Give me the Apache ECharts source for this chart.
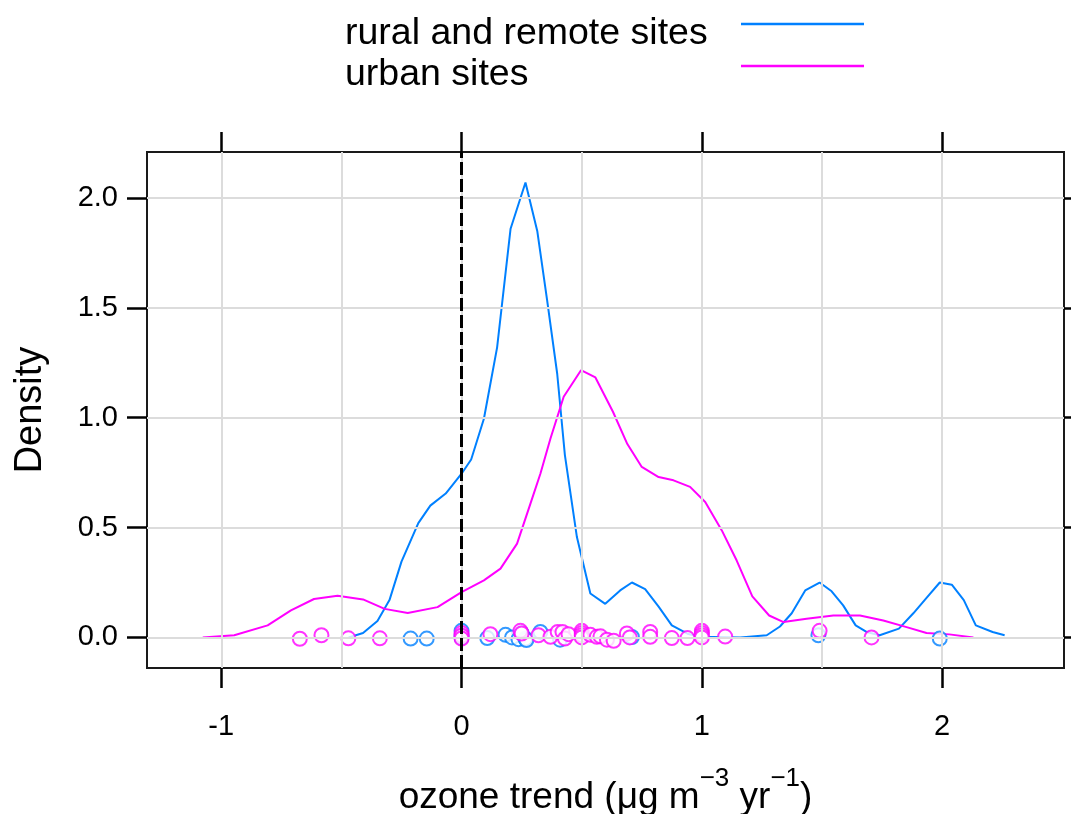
<!DOCTYPE html>
<html>
<head>
<meta charset="utf-8">
<script src="https://cdn.jsdelivr.net/npm/echarts@6/dist/echarts.min.js"></script>
<style>
  html, body { margin: 0; padding: 0; background: #ffffff; }
  #chart { width: 1071px; height: 814px; }
</style>
</head>
<body>
<div id="chart"></div>
<script>
const seriesNames = ['rural and remote sites', 'urban sites'];
const seriesColors = ['#0080ff', '#ff00ff'];

// kernel density estimate, rural and remote sites: [trend, density]
const ruralDensity = [
  [-0.47, 0.0], [-0.41, 0.02], [-0.35, 0.075], [-0.30, 0.17], [-0.25, 0.345],
  [-0.18, 0.52], [-0.13, 0.60], [-0.066, 0.655], [0.0, 0.745], [0.04, 0.81],
  [0.093, 0.995], [0.148, 1.32], [0.204, 1.86], [0.266, 2.07], [0.315, 1.85],
  [0.356, 1.535], [0.398, 1.20], [0.43, 0.83], [0.48, 0.457], [0.536, 0.20],
  [0.598, 0.153], [0.66, 0.214], [0.709, 0.25], [0.764, 0.22], [0.82, 0.14],
  [0.875, 0.055], [0.94, 0.017], [0.99, 0.003], [1.16, 0.0], [1.27, 0.01],
  [1.325, 0.05], [1.374, 0.11], [1.43, 0.214], [1.49, 0.25], [1.54, 0.21],
  [1.588, 0.146], [1.64, 0.055], [1.685, 0.025], [1.74, 0.01], [1.82, 0.04],
  [1.88, 0.11], [1.935, 0.18], [1.99, 0.25], [2.04, 0.24], [2.09, 0.17],
  [2.14, 0.055], [2.21, 0.025], [2.26, 0.01]
];

// kernel density estimate, urban sites: [trend, density]
const urbanDensity = [
  [-1.077, 0.0], [-0.946, 0.01], [-0.807, 0.055], [-0.71, 0.123], [-0.614, 0.175],
  [-0.516, 0.19], [-0.41, 0.173], [-0.32, 0.13], [-0.224, 0.111], [-0.10, 0.138],
  [0.0, 0.206], [0.093, 0.26], [0.162, 0.313], [0.231, 0.427], [0.287, 0.61],
  [0.328, 0.745], [0.37, 0.905], [0.425, 1.095], [0.497, 1.216], [0.557, 1.183],
  [0.63, 1.027], [0.69, 0.88], [0.75, 0.776], [0.82, 0.73], [0.882, 0.715],
  [0.951, 0.685], [1.014, 0.616], [1.083, 0.487], [1.145, 0.35], [1.21, 0.187],
  [1.28, 0.10], [1.34, 0.07], [1.436, 0.085], [1.547, 0.10], [1.658, 0.10],
  [1.755, 0.077], [1.852, 0.047], [1.935, 0.02], [2.03, 0.014], [2.13, 0.0]
];

// individual site trends, with a small vertical jitter: [trend, jitter]
const ruralSites = [
  [-0.212, -0.005], [-0.145, -0.005], [0.0, 0.03], [0.0, 0.01], [0.0, 0.0],
  [0.107, -0.003], [0.183, 0.012], [0.21, 0.0], [0.237, -0.008], [0.25, 0.02],
  [0.266, -0.006], [0.27, -0.012], [0.328, 0.025], [0.41, -0.01], [0.709, 0.002],
  [1.485, 0.01], [1.99, -0.005]
];
const urbanSites = [
  [-0.673, -0.006], [-0.583, 0.01], [-0.471, -0.004], [-0.34, -0.004],
  [0.0, 0.02], [0.0, 0.008], [0.0, -0.005], [0.12, 0.015], [0.245, 0.03],
  [0.25, 0.018], [0.32, 0.01], [0.37, 0.003], [0.40, 0.025], [0.42, 0.025],
  [0.43, -0.005], [0.445, 0.015], [0.5, 0.03], [0.5, 0.02], [0.5, 0.01],
  [0.5, 0.0], [0.536, 0.012], [0.563, 0.003], [0.578, 0.005], [0.605, -0.01],
  [0.633, -0.015], [0.688, 0.018], [0.70, 0.0], [0.785, 0.025], [0.785, 0.003],
  [0.875, -0.003], [0.94, -0.003], [1.0, 0.03], [1.0, 0.02], [1.0, 0.01],
  [1.0, 0.0], [1.097, 0.004], [1.49, 0.03], [1.706, 0.0]
];

const xTicks = [-1, 0, 1, 2];
const yTicks = [0, 0.5, 1, 1.5, 2];
const xGridLines = [-1, -0.5, 0, 0.5, 1, 1.5, 2];
const yGridLines = [0, 0.5, 1, 1.5, 2];
const xRange = [-1.309, 2.507];
const yRange = [-0.139, 2.209];
const zeroLine = 0;

const FONT = '"Liberation Sans", Arial, Helvetica, sans-serif';
const tickStyle = { color: '#000', width: 2.5 };

function tickAxis(position, ticks, labels, extra) {
  const horizontal = position === 'top' || position === 'bottom';
  return Object.assign({
    type: 'value',
    position: position,
    min: horizontal ? xRange[0] : yRange[0],
    max: horizontal ? xRange[1] : yRange[1],
    axisLine: { show: false, onZero: false },
    splitLine: { show: false },
    axisTick: { show: true, inside: false, length: 20, customValues: ticks, lineStyle: tickStyle },
    axisLabel: labels
  }, extra || {});
}

const chart = echarts.init(document.getElementById('chart'), null, { renderer: 'canvas' });

const option = {
  animation: false,
  backgroundColor: '#ffffff',
  grid: {
    left: 147, top: 152, right: 7, bottom: 146,
    containLabel: false, outerBoundsMode: 'none',
    show: true, borderColor: '#1a1a1a', borderWidth: 2, backgroundColor: 'transparent'
  },
  xAxis: [
    tickAxis('bottom', xTicks, {
      show: true, customValues: xTicks, margin: 44, fontSize: 29,
      color: '#000', fontFamily: FONT, formatter: v => String(v)
    }, {
      name: '{t|ozone trend (μg m}{s|−3}{t| yr}{s|−1}{t|)}',
      nameLocation: 'middle',
      nameGap: 111,
      nameTextStyle: {
        color: '#000', fontFamily: FONT,
        rich: {
          t: { fontSize: 37, lineHeight: 37, fontFamily: FONT, color: '#000', verticalAlign: 'bottom' },
          s: { fontSize: 26, lineHeight: 26, fontFamily: FONT, color: '#000', verticalAlign: 'bottom', padding: [0, 0, 24, 0] }
        }
      }
    }),
    tickAxis('top', xTicks, { show: false })
  ],
  yAxis: [
    tickAxis('left', yTicks, {
      show: true, customValues: yTicks, margin: 29, fontSize: 29,
      color: '#000', fontFamily: FONT, formatter: v => v.toFixed(1)
    }, {
      name: 'Density',
      nameLocation: 'middle',
      nameRotate: 90,
      nameGap: 97,
      nameTextStyle: { color: '#000', fontFamily: FONT, fontSize: 38, lineHeight: 38 }
    }),
    tickAxis('right', yTicks, { show: false })
  ],
  graphic: [
    { type: 'text', left: 345, top: 15, silent: true,
      style: { text: seriesNames[0], font: '37.5px ' + FONT, fill: '#000' } },
    { type: 'text', left: 345, top: 56, silent: true,
      style: { text: seriesNames[1], font: '37.5px ' + FONT, fill: '#000' } },
    { type: 'line', silent: true, shape: { x1: 741, y1: 24, x2: 864, y2: 24 },
      style: { stroke: seriesColors[0], lineWidth: 2.5 } },
    { type: 'line', silent: true, shape: { x1: 741, y1: 66, x2: 864, y2: 66 },
      style: { stroke: seriesColors[1], lineWidth: 2.5 } }
  ],
  series: [
    {
      // reference grid
      type: 'line', data: [], z: 1, silent: true,
      markLine: {
        silent: true, symbol: ['none', 'none'], animation: false,
        label: { show: false },
        lineStyle: { color: '#dcdcdc', width: 2, type: 'solid' },
        emphasis: { disabled: true },
        data: xGridLines.map(v => ({ xAxis: v })).concat(yGridLines.map(v => ({ yAxis: v })))
      }
    },
    {
      name: seriesNames[0], type: 'line', data: ruralDensity, z: 3,
      showSymbol: false, symbol: 'none', smooth: false,
      lineStyle: { color: seriesColors[0], width: 2 }, itemStyle: { color: seriesColors[0] }
    },
    {
      name: seriesNames[1], type: 'line', data: urbanDensity, z: 3,
      showSymbol: false, symbol: 'none', smooth: false,
      lineStyle: { color: seriesColors[1], width: 2 }, itemStyle: { color: seriesColors[1] }
    },
    {
      name: seriesNames[0], type: 'scatter', data: ruralSites, z: 4,
      symbol: 'emptyCircle', symbolSize: 14,
      itemStyle: { color: seriesColors[0], borderColor: seriesColors[0], borderWidth: 2 }
    },
    {
      name: seriesNames[1], type: 'scatter', data: urbanSites, z: 4,
      symbol: 'emptyCircle', symbolSize: 14,
      itemStyle: { color: seriesColors[1], borderColor: seriesColors[1], borderWidth: 2 }
    },
    {
      // zero-trend reference line
      type: 'line', data: [], z: 5, silent: true,
      markLine: {
        silent: true, symbol: ['none', 'none'], animation: false,
        label: { show: false },
        lineStyle: { color: '#000', width: 3, type: [13, 4] },
        emphasis: { disabled: true },
        data: [{ xAxis: zeroLine }]
      }
    }
  ]
};

chart.setOption(option);
</script>
</body>
</html>
